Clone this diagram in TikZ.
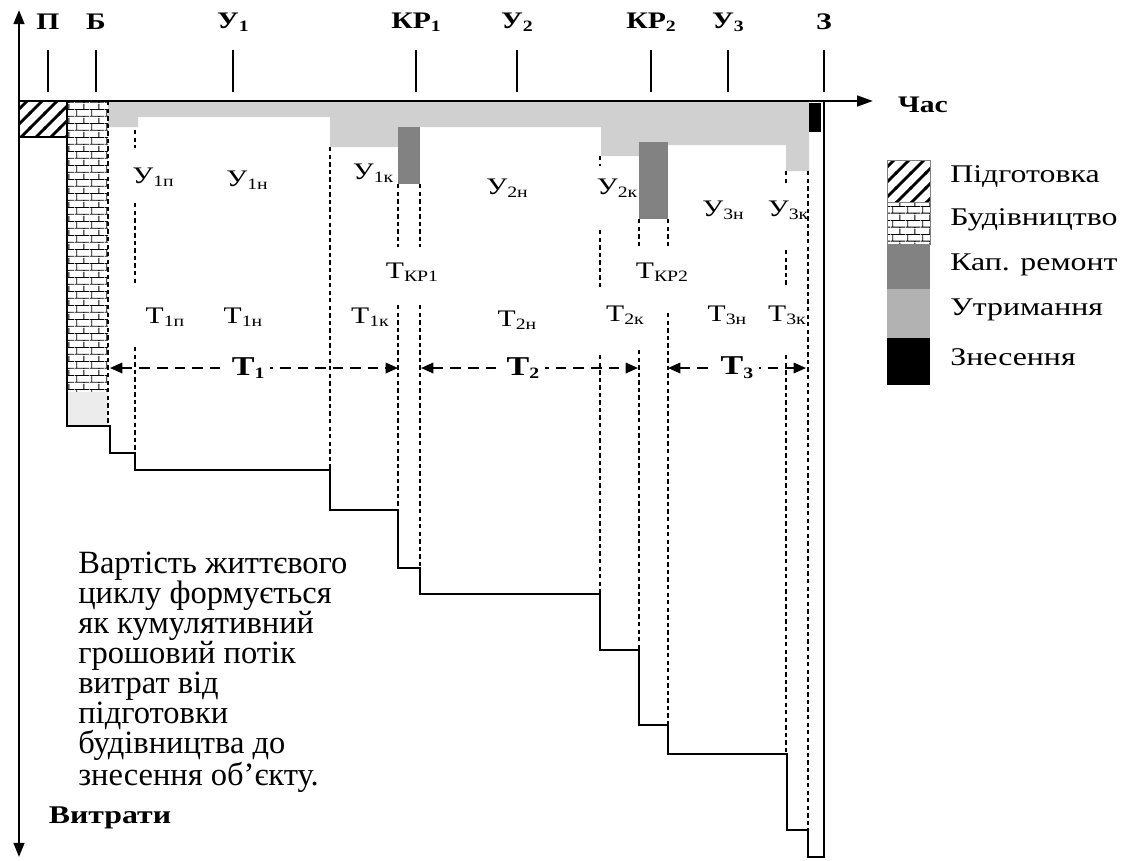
\documentclass[tikz,border=0pt]{standalone}
\usepackage{fontspec}
\setmainfont{Liberation Serif}
\newfontfamily\wideserif[FakeStretch=1.25]{Liberation Serif}
\usetikzlibrary{arrows.meta, patterns.meta}
\definecolor{maintgray}{RGB}{208,208,208}
\definecolor{leggray}{RGB}{178,178,178}
\definecolor{repairgray}{RGB}{130,130,130}
\definecolor{basegray}{RGB}{236,236,236}
% brick and wide hatch fills
\tikzdeclarepattern{
  name=brickwall,
  bottom left={(0pt,0pt)},
  top right={(8.6pt,8pt)},
  tile size={(8.6pt,8pt)},
  code={
    \draw[line width=0.5pt] (0pt,0.5pt) -- (8.6pt,0.5pt) (0pt,4.5pt) -- (8.6pt,4.5pt)
      (1pt,0.5pt) -- (1pt,4.5pt) (5.3pt,4.5pt) -- (5.3pt,8pt) (5.3pt,0pt) -- (5.3pt,0.5pt);
  }
}
\tikzdeclarepattern{
  name=widehatch,
  bottom left={(-1pt,-1pt)},
  top right={(9.5pt,9.5pt)},
  tile size={(8.5pt,8.5pt)},
  code={\draw[line width=1.6pt] (-1pt,-1pt) -- (9.5pt,9.5pt);}
}
\newcommand{\lo}[1]{\raisebox{-0.3ex}{\fontsize{9}{9}\selectfont #1}}
\newcommand{\blo}[1]{\raisebox{-0.3ex}{\fontsize{9}{9}\selectfont\bfseries #1}}
\tikzset{
  axis/.style={line width=1.4pt},
  tick/.style={line width=0.8pt},
  curve/.style={line width=1.4pt, line join=miter},
  guide/.style={line width=0.6pt, dash pattern=on 2.5pt off 1.8pt},
  span/.style={line width=0.9pt, dash pattern=on 6pt off 4pt,
    {Triangle[length=7pt,width=6pt]}-{Triangle[length=7pt,width=6pt]}},
  toplbl/.style={font=\wideserif\fontsize{13.5}{13.5}\selectfont\bfseries, inner sep=1pt},
  axlbl/.style={font=\wideserif\fontsize{13.5}{13.5}\selectfont\bfseries, inner sep=1pt},
  cost/.style={font=\wideserif\fontsize{13.5}{13.5}\selectfont, inner sep=1pt},
  spanlbl/.style={font=\wideserif\fontsize{15.5}{15.5}\selectfont\bfseries, fill=white, inner sep=3pt},
  legbox/.style={draw=gray, line width=0.4pt},
  leglbl/.style={font=\wideserif\fontsize{14.5}{14.5}\selectfont, anchor=west, inner sep=0pt}
}
\begin{document}
\begin{tikzpicture}[x=0.02cm, y=-0.02cm]
  \useasboundingbox (0,0) rectangle (1130,860);

  % maintenance band under the time axis
  \fill[maintgray] (108,101) -- (809,101) -- (809,171) -- (786,171) -- (786,145) -- (639,145)
    -- (639,156) -- (601,156) -- (601,127) -- (398,127) -- (398,147) -- (330,147)
    -- (330,117) -- (138,117) -- (138,127) -- (108,127) -- cycle;
  % capital repairs and demolition
  \fill[repairgray] (398,127) rectangle (420,184);
  \fill[repairgray] (639,142) rectangle (668,219);
  \fill[black] (809,103) rectangle (821,132);

  % preparation and construction
  \fill[pattern=brickwall] (67,101) rectangle (108,392);
  \fill[basegray] (67,392) rectangle (108,426);
  \draw[line width=1pt, pattern=widehatch] (19,101) rectangle (67,137);

  % guide lines
  \draw[guide] (108,101) -- (108,426);
  \draw[guide] (135,130) -- (135,148) (135,203) -- (135,285) (135,347) -- (135,453);
  \draw[guide] (330,147) -- (330,470);
  \draw[guide] (398,184) -- (398,247) (398,305) -- (398,510);
  \draw[guide] (420,184) -- (420,247) (420,305) -- (420,568);
  \draw[guide] (600,156) -- (600,166) (600,230) -- (600,287) (600,355) -- (600,594);
  \draw[guide] (639,219) -- (639,247) (639,350) -- (639,650);
  \draw[guide] (668,219) -- (668,247) (668,313) -- (668,725);
  \draw[guide] (786,171) -- (786,183) (786,250) -- (786,287) (786,355) -- (786,754);
  \draw[guide] (808,171) -- (808,830);

  % cumulative cost curve
  \draw[curve] (67,101) -- (67,426) -- (110,426) -- (110,453) -- (135,453) -- (135,470)
    -- (330,470) -- (330,510) -- (398,510) -- (398,568) -- (420,568) -- (420,594)
    -- (600,594) -- (600,650) -- (639,650) -- (639,725) -- (668,725) -- (668,754)
    -- (787,754) -- (787,830) -- (808,830) -- (808,857) -- (824,857) -- (824,101);

  % axes
  \coordinate (orig) at (19,101);
  \coordinate (ytop) at (19,10);
  \coordinate (ybot) at (19,857);
  \coordinate (xend) at (873,101);
  \draw[axis, {Triangle[length=8pt,width=6pt]}-{Triangle[length=8pt,width=6pt]}] (ybot) -- (ytop);
  \draw[axis, -{Triangle[length=9pt,width=6pt]}] (orig) -- (xend);
  \node[axlbl] (time) at (923,105) {Час};
  \node[axlbl, font=\wideserif\fontsize{14.5}{14.5}\selectfont\bfseries] (cost) at (110,818) {Витрати};

  % stage marks
  \foreach \x/\t in {48/П, 96/Б, 233/У\blo{1}, 416/КР\blo{1}, 517/У\blo{2},
                     651/КР\blo{2}, 728/У\blo{3}, 824/З} {
    \node[toplbl] (top-\x) at (\x,22) {\t};
    \draw[tick] (\x,50) -- (\x,92);
  }

  % costs and durations
  \node[cost] (u1p) at (153,177) {У\lo{1п}};
  \node[cost] (u1n) at (247,180) {У\lo{1н}};
  \node[cost] (u1k) at (373,173) {У\lo{1к}};
  \node[cost] (u2n) at (507,188) {У\lo{2н}};
  \node[cost] (u2k) at (617,188) {У\lo{2к}};
  \node[cost] (u3n) at (723,210) {У\lo{3н}};
  \node[cost] (u3k) at (788,210) {У\lo{3к}};
  \node[cost] (tkr1) at (412,272) {Т\lo{КР1}};
  \node[cost] (tkr2) at (662,272) {Т\lo{КР2}};
  \node[cost] (t1p) at (165,317) {Т\lo{1п}};
  \node[cost] (t1n) at (243,317) {Т\lo{1н}};
  \node[cost] (t1k) at (370,317) {Т\lo{1к}};
  \node[cost] (t2n) at (517,320) {Т\lo{2н}};
  \node[cost] (t2k) at (625,315) {Т\lo{2к}};
  \node[cost] (t3n) at (727,315) {Т\lo{3н}};
  \node[cost] (t3k) at (787,315) {Т\lo{3к}};

  % service periods
  \coordinate (s1a) at (110,368);
  \coordinate (s1b) at (398,368);
  \coordinate (s2a) at (421,368);
  \coordinate (s2b) at (638,368);
  \coordinate (s3a) at (668,368);
  \coordinate (s3b) at (806,368);
  \draw[span] (s1a) -- (s1b) node[spanlbl, pos=0.48] (T1) {Т\blo{1}};
  \draw[span] (s2a) -- (s2b) node[spanlbl, pos=0.47] (T2) {Т\blo{2}};
  \draw[span] (s3a) -- (s3b) node[spanlbl, pos=0.5] (T3) {Т\blo{3}};

  % legend
  \draw[legbox, pattern=widehatch] (887,160) rectangle (930,202);
  \draw[legbox, pattern=brickwall] (887,202) rectangle (930,244);
  \fill[repairgray] (887,244) rectangle (930,289);
  \fill[leggray] (887,289) rectangle (930,338);
  \fill[black] (887,338) rectangle (930,385);
  \node[leglbl] (lg1) at (950,177) {Підготовка};
  \node[leglbl] (lg2) at (950,220) {Будівництво};
  \node[leglbl] (lg3) at (950,265) {Кап. ремонт};
  \node[leglbl] (lg4) at (950,310) {Утримання};
  \node[leglbl] (lg5) at (950,357) {Знесення};

  % note
  \node[anchor=north west, align=left, inner sep=0pt, font=\fontsize{18.5}{17}\selectfont]
    (note) at (78,552) {Вартість життєвого\\циклу формується\\як кумулятивний\\грошовий потік\\витрат від\\підготовки\\будівництва до\\знесення об’єкту.};
\end{tikzpicture}
\end{document}
